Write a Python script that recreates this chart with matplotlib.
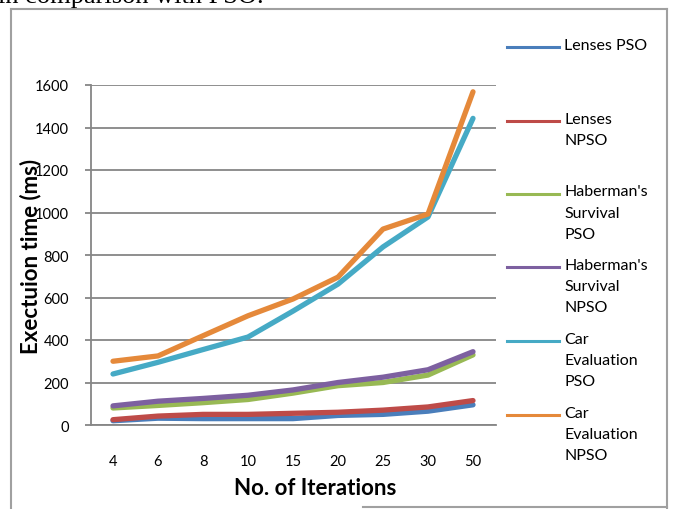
import matplotlib
matplotlib.use("Agg")
import matplotlib.pyplot as plt
from matplotlib.lines import Line2D

iterations = ["4", "6", "8", "10", "15", "20", "25", "30", "50"]
lenses_pso = [20, 32, 30, 30, 30, 45, 50, 65, 95]
lenses_npso = [25, 42, 50, 50, 55, 60, 70, 85, 115]
haberman_pso = [80, 92, 105, 120, 150, 185, 200, 235, 330]
haberman_npso = [90, 112, 125, 140, 165, 200, 225, 260, 345]
car_pso = [240, 295, 355, 414, 536, 663, 838, 979, 1443]
car_npso = [300, 325, 420, 514, 593, 696, 922, 993, 1568]

series_names = ["Lenses PSO", "Lenses\nNPSO", "Haberman's\nSurvival\nPSO",
                "Haberman's\nSurvival\nNPSO", "Car\nEvaluation\nPSO", "Car\nEvaluation\nNPSO"]
series_values = [lenses_pso, lenses_npso, haberman_pso, haberman_npso, car_pso, car_npso]
colors = ["#4A7EBB", "#BE4B48", "#98B954", "#7D60A0", "#46AAC5", "#E5893A"]

W, H = 673, 510
fig = plt.figure(figsize=(W / 100, H / 100), dpi=100)
plt.rcParams['font.family'] = ['Lato', 'DejaVu Sans']

def fx(px):
    return px / W

def fy(py):
    return 1 - py / H

ax = fig.add_axes([fx(90.5), fy(426), fx(495.5) - fx(90.5), fy(86) - fy(426)])
x = list(range(len(iterations)))
for vals, c in zip(series_values, colors):
    ax.plot(x, vals, color=c, lw=3.8, solid_capstyle='round', solid_joinstyle='round', zorder=3)

ax.set_xlim(-0.5, len(iterations) - 0.5)
ax.set_ylim(0, 1600)
ax.set_yticks(range(0, 1601, 200))
ax.set_xticks(x)
ax.set_xticklabels(iterations)
ax.grid(axis='y', color='#868686', lw=1.3)
ax.set_axisbelow(True)
for s in ['top', 'right']:
    ax.spines[s].set_visible(False)
for s in ['left', 'bottom']:
    ax.spines[s].set_color('#868686')
    ax.spines[s].set_linewidth(1.3)
ax.tick_params(axis='y', length=4.5, width=1.3, color='#868686', pad=11, labelsize=10.5)
ax.tick_params(axis='x', length=0, pad=21, labelsize=10.5)

fig.text(fx(31), fy(256), "Exectuion time (ms)", rotation=90, ha='center', va='center',
         fontsize=16, fontweight='bold')
fig.text(fx(315), fy(489), "No. of Iterations", ha='center', va='center',
         fontsize=16, fontweight='bold')

# legend
ys = [48, 122, 195, 268, 342, 416]
for name, c, yy in zip(series_names, colors, ys):
    fig.add_artist(Line2D([fx(507), fx(559)], [fy(yy), fy(yy)], color=c, lw=2.2))
    fig.text(fx(564), fy(yy - 9.5), name, ha='left', va='top', fontsize=11.5, linespacing=1.67)

# frame
fc = '#A0A0A0'
fig.add_artist(Line2D([fx(11), fx(11)], [fy(10), 0], color=fc, lw=1.5))
fig.add_artist(Line2D([fx(11), fx(667)], [fy(10), fy(10)], color=fc, lw=1.5))
fig.add_artist(Line2D([fx(667), fx(667)], [fy(10), 0], color=fc, lw=1.5))
fig.add_artist(Line2D([fx(363), fx(667)], [fy(508), fy(508)], color=fc, lw=1.5))

fig.text(fx(-2), fy(3), "in comparison with PSO.", ha='left', va='baseline',
         fontsize=19, family=['Liberation Serif', 'DejaVu Serif'])

fig.savefig("out.png", dpi=100)
